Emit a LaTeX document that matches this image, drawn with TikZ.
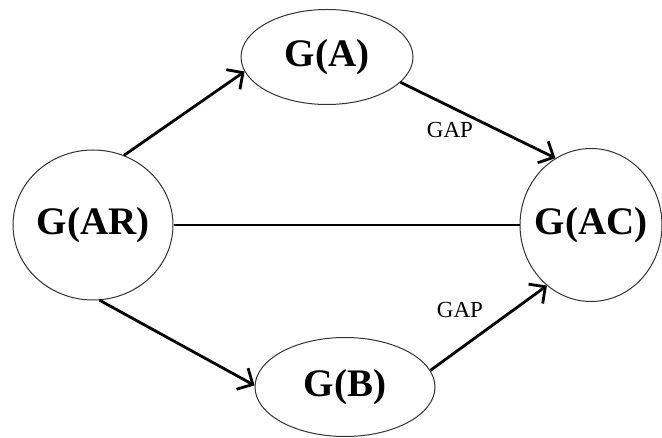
\documentclass[tikz,border=0pt]{standalone}
\usepackage{fontspec}
\setmainfont{Liberation Serif}
\usetikzlibrary{shapes.geometric,arrows.meta}
\begin{document}
\begin{tikzpicture}[x=1pt,y=-1pt,
        blob/.style={ellipse,draw=black!80,line width=1pt,inner sep=0pt,inner xsep=-8pt,
            font=\bfseries\fontsize{39}{39}\selectfont},
        link/.style={line width=2.8pt,-{Straight Barb[length=12pt,width=24pt,line width=2.8pt]}},
        gap/.style={font=\fontsize{23}{23}\selectfont,inner sep=0pt}]
    \useasboundingbox (0,0) rectangle (662,438);
    % Nodes
    \node[blob,minimum width=160pt,minimum height=150pt] (ar) at (93,225) {G(AR)};
    \node[blob,minimum width=172pt,minimum height=95pt] (a) at (327,57) {G(A)};
    \node[blob,minimum width=142pt,minimum height=153pt] (ac) at (591,225) {G(AC)};
    \node[blob,minimum width=180pt,minimum height=99pt] (b) at (345,387) {G(B)};
    % Labels
    \node[gap] (gapa) at (450,130) {GAP};
    \node[gap] (gapb) at (460,310) {GAP};
    % Edges
    \draw[link] (ar.66) -- (a.190);
    \draw[link] (a.341) -- (ac.118);
    \draw[link] (ar.275) -- (b.179);
    \draw[link] (b.11) -- (ac.234);
    \draw[line width=2.8pt] (ar.east) -- (ac.west);
\end{tikzpicture}
\end{document}
